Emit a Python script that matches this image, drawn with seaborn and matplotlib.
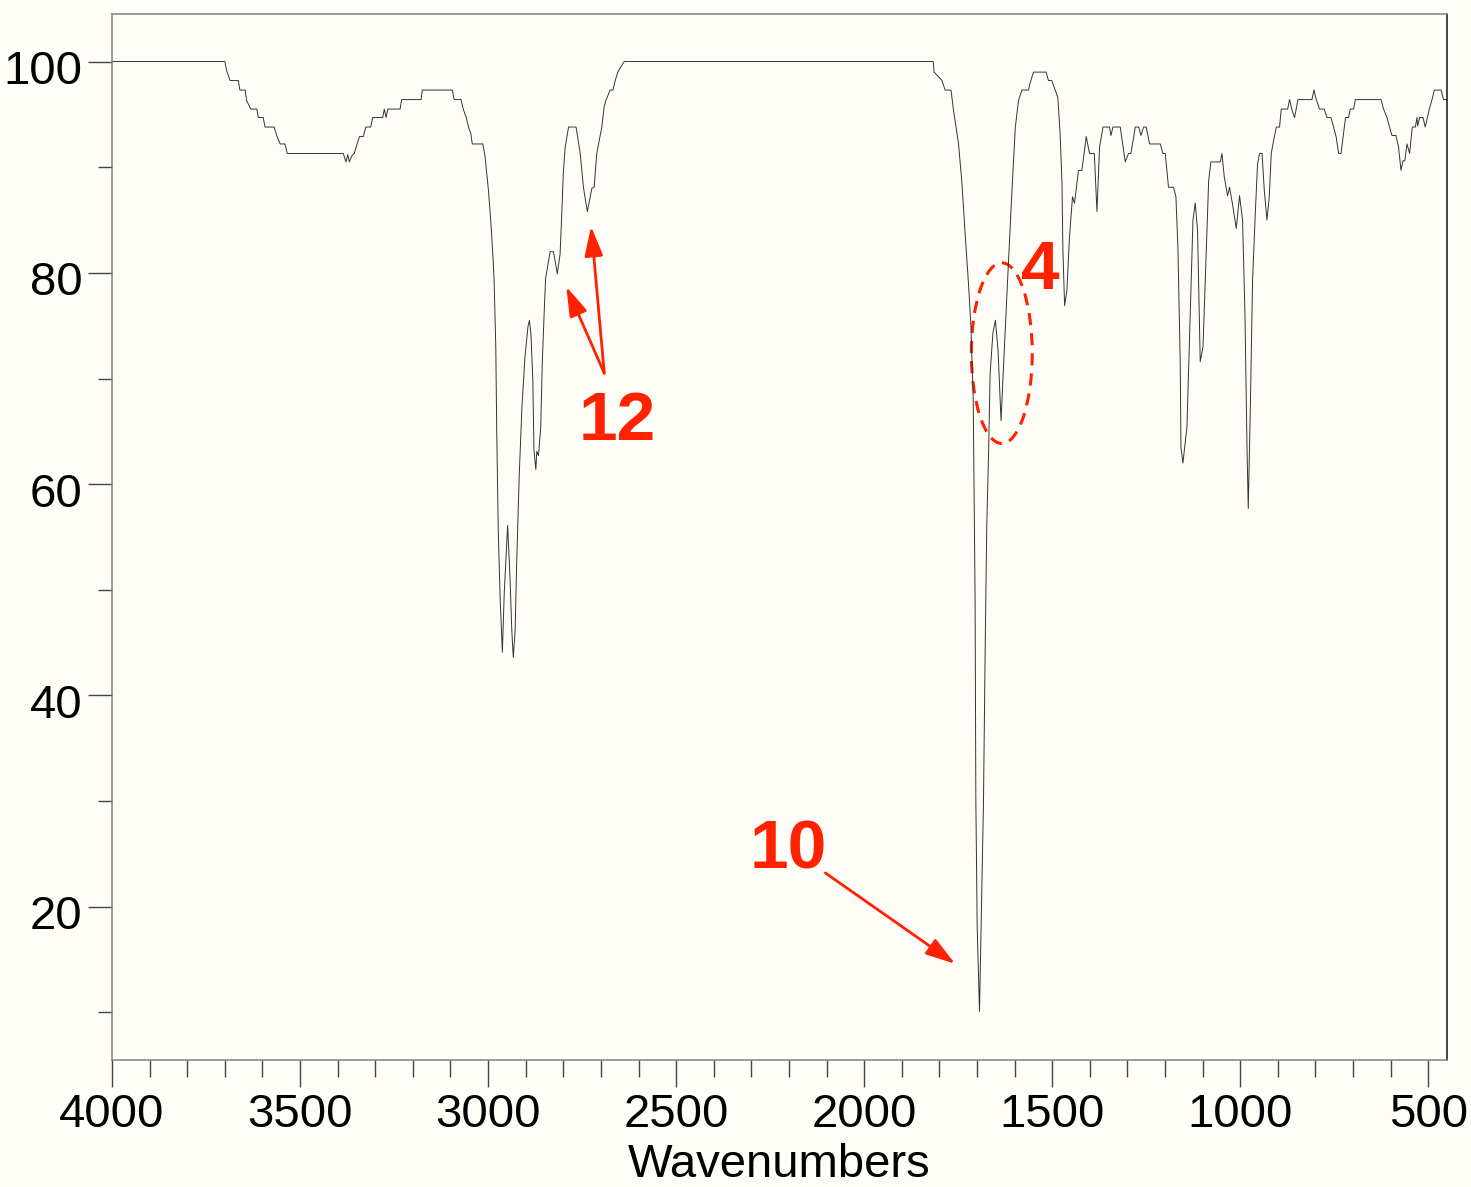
import matplotlib
matplotlib.use("Agg")
import matplotlib.pyplot as plt
from matplotlib.patches import Ellipse
from matplotlib.transforms import ScaledTranslation
import numpy as np
import pandas as pd
import seaborn as sns

# IR spectrum: wavenumber (cm^-1) and % transmittance
wavenumber = [
    4000, 3700, 3695, 3686, 3664, 3660, 3646, 3642, 3631, 3615, 3611, 3598,
    3593, 3569, 3562, 3553, 3540, 3534, 3385, 3378, 3373, 3369, 3362, 3356,
    3349, 3342, 3332, 3325, 3312, 3307, 3280, 3276, 3271, 3267, 3234, 3230,
    3178, 3175, 3095, 3090, 3072, 3066, 3058, 3052, 3046, 3042, 3014, 3008,
    2999, 2993, 2987, 2984, 2979.5, 2977, 2973, 2968, 2962, 2957, 2948,
    2941.5, 2937, 2933, 2928, 2924, 2917, 2910, 2902, 2894, 2890, 2886, 2881,
    2878, 2873, 2870.5, 2866, 2860, 2856, 2851, 2847, 2835, 2826, 2816,
    2808.5, 2804, 2800, 2795, 2786, 2766, 2755, 2746.5, 2736, 2724, 2718,
    2711, 2697.6, 2691.5, 2687, 2675.5, 2668, 2662, 2654, 2638, 1816.5, 1814,
    1793, 1784.6, 1769, 1762.5, 1749, 1740, 1731, 1722.6, 1716, 1710, 1705,
    1703, 1699.4, 1693.3, 1689, 1682.7, 1678, 1674, 1669, 1665, 1657.7, 1651,
    1644, 1636, 1629.5, 1619, 1607, 1598, 1589.6, 1580.6, 1563, 1558.5,
    1549.7, 1516, 1510, 1501, 1492, 1485, 1479, 1474, 1471.5, 1467, 1461,
    1454, 1446, 1440.7, 1430, 1421, 1409.5, 1400.7, 1388, 1381, 1374, 1365,
    1347.6, 1343.8, 1338.5, 1319, 1305.8, 1297, 1290.7, 1279, 1270, 1264,
    1257, 1250, 1241, 1212.7, 1205.6, 1199.4, 1190.7, 1177.4, 1171, 1165.7,
    1159.5, 1157.7, 1152.4, 1141.7, 1133, 1125.7, 1119.6, 1113.5, 1106.4,
    1099, 1093, 1084, 1078, 1053, 1048.6, 1042.5, 1033.7, 1028.4, 1020.5,
    1010.6, 1001.8, 993.8, 987.5, 982, 978.7, 973.4, 967.2, 960, 954, 948.6,
    942, 936, 929, 922.8, 917.5, 911.4, 904, 895.4, 891, 874, 868.8, 862.5,
    855.5, 846.5, 809.3, 804, 797.8, 789, 776.6, 769.4, 758.7, 751.8, 744.6,
    738.5, 732, 725, 720, 712, 707.4, 698.6, 694, 625.7, 618.8, 609.8, 603,
    596.5, 586, 579, 572.6, 567.3, 562.5, 556.6, 549.7, 542.5, 534.5, 530,
    528.4, 523, 514, 508, 497.3, 490, 484, 466, 459.3, 451,
]
transmittance = [
    100, 100, 99.1, 98.2, 98.2, 97.3, 97.3, 96.3, 95.5, 95.5, 94.7, 94.7,
    93.8, 93.8, 93.0, 92.2, 92.2, 91.3, 91.3, 90.5, 91.2, 90.5, 91.1, 91.3,
    92.1, 92.9, 92.9, 93.8, 93.8, 94.7, 94.7, 95.5, 94.7, 95.5, 95.5, 96.4,
    96.4, 97.3, 97.3, 96.4, 96.4, 95.5, 94.7, 93.8, 93.2, 92.2, 92.2, 91.0,
    87.8, 85.0, 81.5, 79.3, 73.0, 65.1, 55.7, 49.3, 44.1, 49.7, 56.1,
    51.0, 46.2, 43.6, 46.2, 52.5, 61.0, 67.3, 72.0, 74.9, 75.5, 74.2, 69.8,
    63.2, 61.4, 63.1, 62.7, 65.4, 71.4, 76.1, 79.5, 82.0, 82.0, 79.9,
    81.8, 85.6, 89.4, 91.9, 93.8, 93.8, 91.3, 88.1, 85.8, 88.0, 88.1,
    91.3, 93.8, 95.7, 96.3, 97.3, 97.3, 98.2, 99.1, 100, 100, 99.0,
    98.2, 97.3, 97.3, 95.4, 92.2, 88.5, 83.4, 79.0, 74.9, 68.0, 49.0,
    30.0, 18.0, 10.1, 18.0, 30.0, 45.0, 56.0, 63.2, 70.5, 74.3, 75.5,
    72.7, 66.0, 71.1, 79.0, 87.8, 93.8, 96.3, 97.3, 97.3, 98.0,
    99.0, 99.0, 98.2, 98.2, 97.3, 96.6, 93.2, 88.5, 82.1, 76.9, 78.3,
    83.4, 87.2, 86.6, 89.7, 89.7, 92.9, 91.3, 91.3, 85.8, 91.9, 93.8,
    93.8, 93.0, 93.8, 93.8, 90.5, 91.3, 91.3, 93.8, 93.8, 93.0,
    93.8, 93.8, 92.2, 92.2, 91.3, 91.3, 88.1, 88.1, 87.2, 82.4,
    71.4, 63.5, 62.0, 65.4, 76.2, 85.0, 86.6, 84.0, 71.6,
    73.0, 79.3, 88.7, 90.5, 90.5, 91.3, 89.1, 87.3, 88.1, 86.5,
    84.2, 87.3, 85.0, 76.2, 63.5, 57.7, 66.7, 79.3, 85.6, 90.3, 91.3,
    91.3, 87.8, 85.0, 87.2, 91.3, 92.5, 93.8, 93.8, 95.5, 95.5, 96.4, 95.4,
    94.7, 96.4, 96.4, 97.3, 96.4, 95.5, 95.5, 94.7, 94.7, 93.8, 92.8,
    91.3, 91.3, 93.3, 94.7, 94.7, 95.5, 95.5, 96.4, 96.4, 95.5, 94.7, 93.8,
    93.0, 93.0, 91.9, 89.7, 90.6, 90.6, 92.2, 91.3, 93.8, 93.8, 94.7,
    93.9, 94.7, 94.7, 93.8, 95.5, 96.4, 97.3, 97.3, 96.4, 96.4,
]

x_major_ticks = [4000, 3500, 3000, 2500, 2000, 1500, 1000, 500]
y_major_ticks = [20, 40, 60, 80, 100]
y_minor_ticks = [10, 30, 50, 70, 90]

peak_labels = ["12", "10", "4"]

RED = "#ff2200"
BG = "#fefdf8"
FONT = ["Liberation Sans", "DejaVu Sans"]

plt.rcParams["font.family"] = FONT

df = pd.DataFrame({"Wavenumbers": wavenumber, "T": transmittance})

fig = plt.figure(figsize=(14.71, 11.87), dpi=100, facecolor=BG)
ax = fig.add_axes([112 / 1471, 1 - 1060 / 1187, (1446.7 - 112) / 1471, (1060 - 14) / 1187])
ax.set_facecolor(BG)

sns.lineplot(data=df, x="Wavenumbers", y="T", sort=False, estimator=None,
             color="#333333", linewidth=0.7, ax=ax)

ax.set_xlim(4000, 451)
ax.set_ylim(5.5, 104.5)

ax.set_xticks(x_major_ticks)
ax.set_xticks(np.arange(500, 4001, 100), minor=True)
ax.set_yticks(y_major_ticks)
ax.set_yticks(y_minor_ticks, minor=True)
ax.set_xticklabels([str(v) for v in x_major_ticks])
ax.set_yticklabels([str(v) for v in y_major_ticks])

ax.tick_params(axis="x", which="major", length=19.5, width=1.0, color="#444444",
               labelsize=34, pad=4.5, direction="out")
ax.tick_params(axis="x", which="minor", length=12.2, width=1.0, color="#444444",
               direction="out")
ax.tick_params(axis="y", which="major", length=17, width=1.0, color="#444444",
               labelsize=34, pad=4.3, direction="out")
ax.tick_params(axis="y", which="minor", length=10, width=1.0, color="#444444",
               direction="out")
for lab in ax.get_yticklabels():
    lab.set_transform(lab.get_transform() + ScaledTranslation(0, -4 / 72, fig.dpi_scale_trans))

ax.set_xlabel("Wavenumbers", fontsize=34, labelpad=4)
ax.set_ylabel("")

for side in ["left", "top", "bottom"]:
    ax.spines[side].set_color("#808080")
    ax.spines[side].set_linewidth(1.1)
ax.spines["right"].set_color("#111111")
ax.spines["right"].set_linewidth(1.1)

arrow_kw = dict(arrowstyle="-|>,head_length=0.9,head_width=0.28", color=RED,
                lw=2.0, mutation_scale=20, shrinkA=0, shrinkB=0)
text_kw = dict(color=RED, fontsize=50, fontweight="bold", ha="center", va="center",
               family=FONT)

# "12" with two arrows
ax.annotate("", xy=(2792, 78.7), xytext=(2691, 70.5), arrowprops=arrow_kw)
ax.annotate("", xy=(2726, 84.4), xytext=(2691, 70.5), arrowprops=arrow_kw)
ax.text(2657, 65.9, peak_labels[0], **text_kw)

# "10" with one arrow toward the carbonyl band
ax.annotate("", xy=(1758, 14.6), xytext=(2103, 23.2), arrowprops=arrow_kw)
ax.text(2202, 25.3, peak_labels[1], **text_kw)

# "4" with a dashed ellipse around the shoulder
ax.add_patch(Ellipse((1634, 72.4), width=162, height=17.1, fill=False,
                     edgecolor=RED, linewidth=2.2, linestyle=(0, (4, 2.6))))
ax.text(1532, 80.2, peak_labels[2], **text_kw)

fig.savefig("out.png", dpi=100, facecolor=BG)
